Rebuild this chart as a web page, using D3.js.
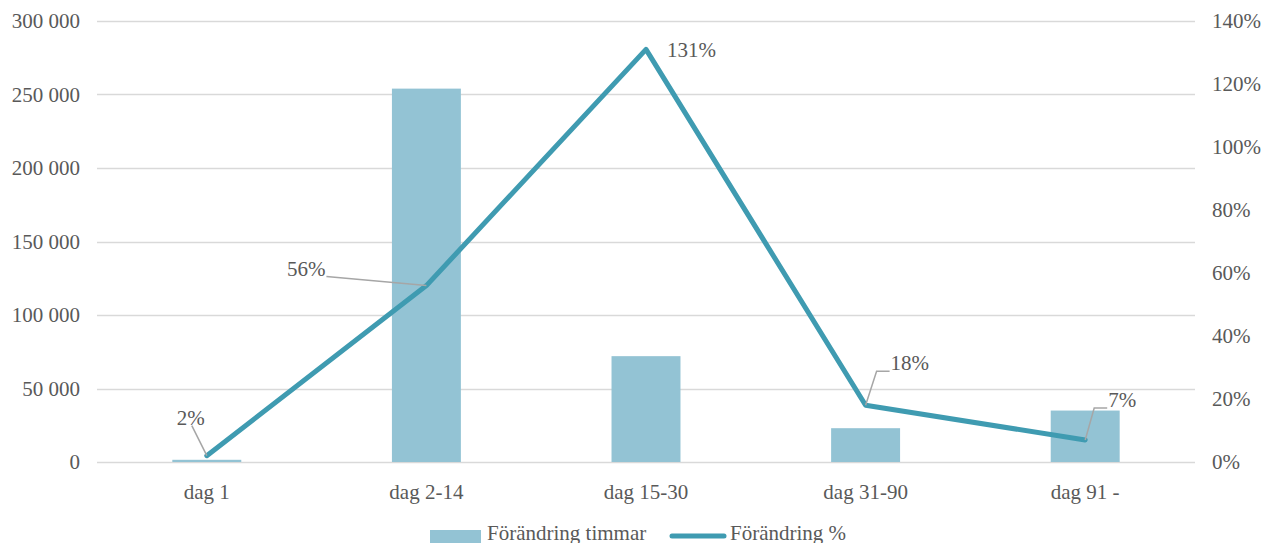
<!DOCTYPE html>
<html>
<head>
<meta charset="utf-8">
<script src="https://cdn.jsdelivr.net/npm/d3@7"></script>
<style>
  html, body { margin: 0; padding: 0; background: #fff; overflow: hidden; }
  svg { display: block; }
</style>
</head>
<body>
<svg id="chart" width="1264" height="543"></svg>
<script>
// ---- data ----
const categories = ["dag 1", "dag 2-14", "dag 15-30", "dag 31-90", "dag 91 -"];
const hoursChange = [1500, 254000, 72000, 23000, 35000];      // Förändring timmar
const pctChange = [0.02, 0.56, 1.31, 0.18, 0.07];            // Förändring %
const leftTicks = [0, 50000, 100000, 150000, 200000, 250000, 300000];
const rightTicks = [0, 0.2, 0.4, 0.6, 0.8, 1.0, 1.2, 1.4];
const seriesNames = ["Förändring timmar", "Förändring %"];

// ---- layout ----
const plot = { left: 97, right: 1195, top: 21, bottom: 462 };
const barColor = "#93c3d4";
const lineColor = "#3f9bb1";
const gridColor = "#d9d9d9";
const leaderColor = "#a6a6a6";
const textColor = "#595959";
const FONT = "Liberation Serif";
const fontSize = 21;

const svg = d3.select("#chart");

const x = d3.scaleBand().domain(categories).range([plot.left, plot.right]).padding(0);
const yL = d3.scaleLinear().domain([0, 300000]).range([plot.bottom, plot.top]);
const yR = d3.scaleLinear().domain([0, 1.4]).range([plot.bottom, plot.top]);

const locale = d3.formatLocale({ decimal: ",", thousands: " ", grouping: [3], currency: ["", " kr"] });
const fmtL = locale.format(",d");
const fmtR = d => Math.round(d * 100) + "%";

function styleText(sel) {
  sel.attr("font-family", FONT).attr("font-size", fontSize).attr("fill", textColor);
}

// gridlines
svg.append("g").selectAll("line").data(leftTicks).join("line")
  .attr("x1", plot.left).attr("x2", plot.right)
  .attr("y1", d => Math.round(yL(d)) + 0.5).attr("y2", d => Math.round(yL(d)) + 0.5)
  .attr("stroke", gridColor).attr("stroke-width", 1.3);

// left axis (labels only)
const axL = svg.append("g").attr("transform", `translate(${plot.left},0)`)
  .call(d3.axisLeft(yL).tickValues(leftTicks).tickFormat(fmtL).tickSize(0).tickPadding(17));
axL.attr("font-family", FONT).attr("font-size", fontSize);
axL.select(".domain").remove();
axL.selectAll("text").call(styleText);

// right axis (labels only)
const axR = svg.append("g").attr("transform", `translate(${plot.right},0)`)
  .call(d3.axisRight(yR).tickValues(rightTicks).tickFormat(fmtR).tickSize(0).tickPadding(17));
axR.attr("font-family", FONT).attr("font-size", fontSize);
axR.select(".domain").remove();
axR.selectAll("text").call(styleText);

// x axis labels
const axX = svg.append("g").attr("transform", `translate(0,${plot.bottom})`)
  .call(d3.axisBottom(x).tickSize(0).tickPadding(22));
axX.attr("font-family", FONT).attr("font-size", fontSize);
axX.select(".domain").remove();
axX.selectAll("text").call(styleText);

// bars
const barW = x.bandwidth() * 0.314;
svg.append("g").selectAll("rect").data(categories).join("rect")
  .attr("x", (c) => x(c) + x.bandwidth() / 2 - barW / 2)
  .attr("width", barW)
  .attr("y", (c, i) => yL(hoursChange[i]))
  .attr("height", (c, i) => yL(0) - yL(hoursChange[i]))
  .attr("fill", barColor);

// line
const pts = categories.map((c, i) => [x(c) + x.bandwidth() / 2, yR(pctChange[i])]);
svg.append("path")
  .attr("d", d3.line()(pts))
  .attr("fill", "none").attr("stroke", lineColor).attr("stroke-width", 5)
  .attr("stroke-linejoin", "round").attr("stroke-linecap", "round");

// data labels with leader lines (layout only)
const labelLayout = [
  { dx: -16, dy: -31, anchor: "middle", leader: [[-15, -30], [0, 0]] },
  { dx: -101, dy: -10, anchor: "end", leader: [[-100, -9], [0, 0]] },
  { dx: 21, dy: 8, anchor: "start", leader: null },
  { dx: 25, dy: -35, anchor: "start", leader: [[24, -34], [11, -34], [0, 0]] },
  { dx: 23, dy: -33, anchor: "start", leader: [[22, -32], [9, -32], [0, 0]] }
];
const lg = svg.append("g");
pts.forEach((p, i) => {
  const L = labelLayout[i];
  if (L.leader) {
    lg.append("path")
      .attr("d", d3.line()(L.leader.map(q => [p[0] + q[0], p[1] + q[1]])))
      .attr("fill", "none").attr("stroke", leaderColor).attr("stroke-width", 1.5);
  }
  lg.append("text")
    .attr("x", p[0] + L.dx).attr("y", p[1] + L.dy)
    .attr("text-anchor", L.anchor)
    .call(styleText)
    .text(fmtR(pctChange[i]));
});

// legend
const leg = svg.append("g");
leg.append("rect").attr("x", 430).attr("y", 530).attr("width", 51).attr("height", 14).attr("fill", barColor);
leg.append("text").attr("x", 487).attr("y", 540).call(styleText).text(seriesNames[0]);
leg.append("line").attr("x1", 672).attr("x2", 724).attr("y1", 536).attr("y2", 536)
  .attr("stroke", lineColor).attr("stroke-width", 5).attr("stroke-linecap", "round");
leg.append("text").attr("x", 730).attr("y", 540).call(styleText).text(seriesNames[1]);
</script>
</body>
</html>
